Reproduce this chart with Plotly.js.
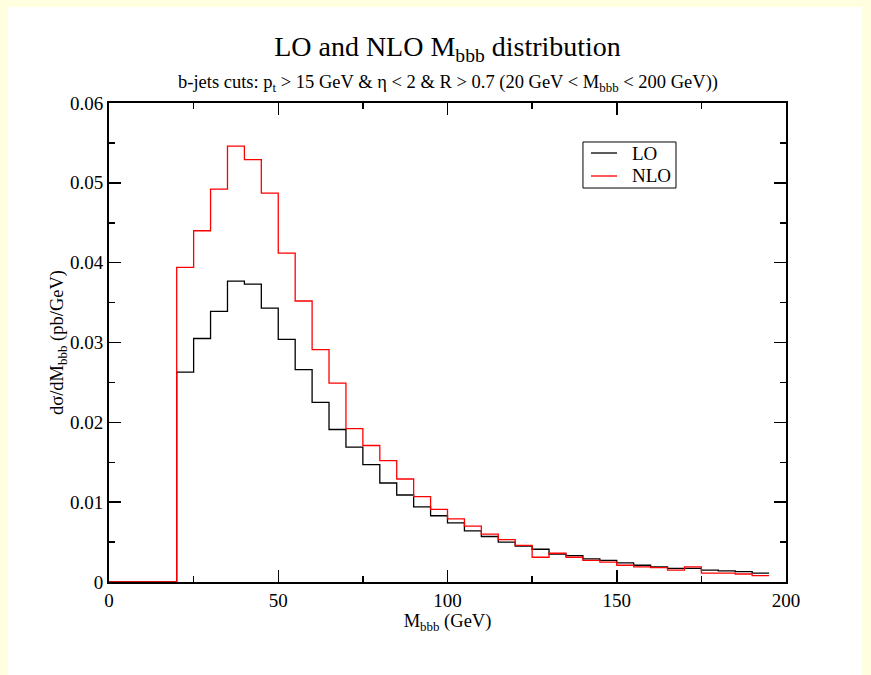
<!DOCTYPE html>
<html>
<head>
<meta charset="utf-8">
<script src="https://cdn.plot.ly/plotly-3.0.1.min.js"></script>
<style>
  html, body { margin: 0; padding: 0; background: #FFFFE0; }
  #wrap { position: absolute; left: 8px; top: 7px; width: 854px; height: 668px; background: #ffffff; }
  #chart { width: 854px; height: 668px; }
</style>
</head>
<body>
<div id="wrap"><div id="chart"></div></div>
<script>
// Bin left edges (GeV), bin width 5
const binEdges = [20,25,30,35,40,45,50,55,60,65,70,75,80,85,90,95,100,105,110,115,120,125,130,135,140,145,150,155,160,165,170,175,180,185,190];
const binEnd = 195;
// dσ/dM_bbb (pb/GeV)
const loValues = [0.0263,0.0305,0.0339,0.0377,0.0373,0.0343,0.0304,0.0266,0.0225,0.0191,0.0169,0.0147,0.0124,0.0109,0.0094,0.0083,0.0074,0.0064,0.0057,0.0050,0.0045,0.0041,0.0035,0.0033,0.0029,0.0027,0.0024,0.0021,0.0019,0.0017,0.0017,0.0015,0.0014,0.0013,0.0011];
const nloValues = [0.0394,0.0440,0.0492,0.0546,0.0529,0.0487,0.0412,0.0352,0.0291,0.0249,0.0192,0.0171,0.0152,0.0129,0.0107,0.0091,0.0079,0.0070,0.0060,0.0053,0.0046,0.0031,0.0036,0.0031,0.0027,0.0025,0.0021,0.0019,0.0018,0.0015,0.0019,0.0011,0.0011,0.0010,0.0008];
const seriesNames = ['LO', 'NLO'];
const seriesColors = ['#000000', '#ff0000'];
const xTickVals = [0, 50, 100, 150, 200];
const yTickVals = [0, 0.01, 0.02, 0.03, 0.04, 0.05, 0.06];

function stepTrace(vals, name, color) {
  const x = [0, binEdges[0]].concat(binEdges.slice(1), [binEnd]);
  const y = [0, vals[0]].concat(vals.slice(1), [vals[vals.length - 1]]);
  return { x: x, y: y, name: name, type: 'scatter', mode: 'lines',
           line: { shape: 'hv', color: color, width: 1.3 } };
}

const serif = 'Liberation Serif';
const data = [stepTrace(loValues, seriesNames[0], seriesColors[0]), stepTrace(nloValues, seriesNames[1], seriesColors[1])];

// manual legend (box, line samples, labels) in paper coordinates
const legBox = { x0: 0.7001, x1: 0.8375, y0: 0.8225, y1: 0.9186 };
const legRowsY = [0.8956, 0.8476];
const shapes = [{ type: 'rect', xref: 'paper', yref: 'paper', x0: legBox.x0, x1: legBox.x1, y0: legBox.y0, y1: legBox.y1,
                  line: { color: '#000', width: 1 }, fillcolor: '#ffffff', layer: 'below' }];
const annotations = [{
    text: 'b-jets cuts: p<sub>t</sub> > 15 GeV & η < 2 & R > 0.7 (20 GeV < M<sub>bbb</sub> < 200 GeV))',
    xref: 'paper', yref: 'paper', x: 0.5, y: 1.040, xanchor: 'center', yanchor: 'middle',
    showarrow: false, font: { family: serif, size: 18.5, color: '#000' }
}];
seriesNames.forEach((n, i) => {
  shapes.push({ type: 'line', xref: 'paper', yref: 'paper', x0: 0.712, x1: 0.7504, y0: legRowsY[i], y1: legRowsY[i],
                line: { color: seriesColors[i], width: 1.3 } });
  annotations.push({ text: n, xref: 'paper', yref: 'paper', x: 0.7696, y: legRowsY[i], xanchor: 'left', yanchor: 'middle',
                     showarrow: false, font: { family: serif, size: 19, color: '#000' } });
});

const axisCommon = {
  showgrid: false, zeroline: false, showline: true, linecolor: '#000', linewidth: 2,
  mirror: 'ticks', ticks: 'inside', ticklen: 12, tickwidth: 1.5, tickcolor: '#000',
  tickfont: { family: serif, size: 19, color: '#000' }
};

const layout = {
  width: 854, height: 668,
  paper_bgcolor: '#ffffff', plot_bgcolor: '#ffffff',
  margin: { l: 101, r: 76, t: 96, b: 93 },
  showlegend: false,
  title: { text: 'LO and NLO M<sub>bbb</sub> distribution', font: { family: serif, size: 28, color: '#000' },
           x: 0.5, xref: 'paper', y: 0.941, yref: 'container', yanchor: 'middle' },
  shapes: shapes,
  annotations: annotations,
  xaxis: Object.assign({}, axisCommon, {
    range: [0, 200], tickvals: xTickVals, ticktext: xTickVals.map(String),
    minor: { dtick: 25, tick0: 0, ticks: 'inside', ticklen: 6, tickwidth: 1.5, tickcolor: '#000' },
    title: { text: 'M<sub>bbb</sub> (GeV)', font: { family: serif, size: 18.5, color: '#000' }, standoff: 4 }
  }),
  yaxis: Object.assign({}, axisCommon, {
    range: [0, 0.06], tickvals: yTickVals, ticktext: yTickVals.map(v => String(v)),
    minor: { dtick: 0.005, tick0: 0, ticks: 'inside', ticklen: 6, tickwidth: 1.5, tickcolor: '#000' },
    title: { text: 'dσ/dM<sub>bbb</sub> (pb/GeV)', font: { family: serif, size: 18.5, color: '#000' }, standoff: 0 }
  })
};

Plotly.newPlot('chart', data, layout, { displayModeBar: false, staticPlot: true });
</script>
</body>
</html>
